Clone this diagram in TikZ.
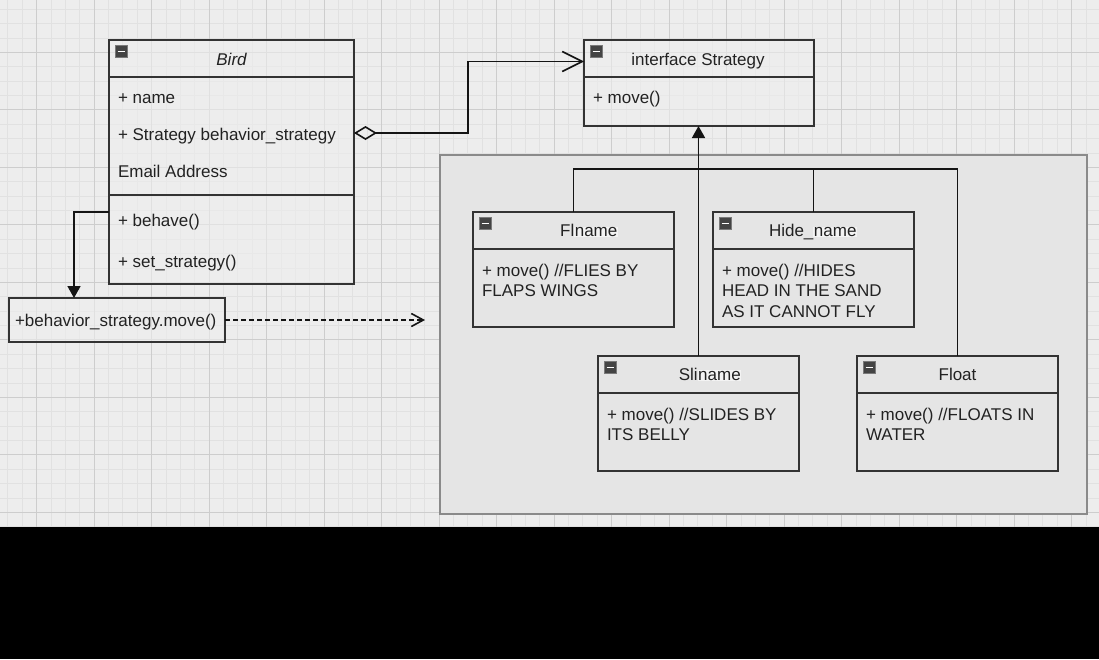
\documentclass[tikz,border=0pt]{standalone}
\usepackage{fontspec}
\setmainfont{Liberation Sans}
\usetikzlibrary{arrows.meta}
\definecolor{bg}{HTML}{EDEDED}
\definecolor{gmin}{HTML}{E1E1E1}
\definecolor{gmaj}{HTML}{CDCDCD}
\definecolor{grpfill}{HTML}{E5E5E5}
\definecolor{grpline}{HTML}{8A8A8A}
\definecolor{ink}{HTML}{222222}
\definecolor{boxline}{HTML}{333333}
\definecolor{hlc}{HTML}{F3F3F3}
\definecolor{iconc}{HTML}{444444}
\definecolor{iconline}{HTML}{7A7A7A}
\newcommand\hlname{{\setlength\fboxsep{0.5pt}\colorbox{hlc}{name}}}
\begin{document}
\begin{tikzpicture}[x=1pt,y=-1pt,
  every node/.style={inner sep=0pt,outer sep=0pt},
  cls/.style={draw=boxline,line width=1.8pt,fill=bg,fill opacity=0.6,anchor=north west},
  sub/.style={draw=boxline,line width=1.8pt,fill=grpfill,anchor=north west},
  txt/.style={anchor=base west,text=ink,font=\fontsize{17}{20}\selectfont},
  ttl/.style={anchor=base,text=ink,font=\fontsize{17}{20}\selectfont},
  icon/.style={minimum width=12pt,minimum height=12pt,fill=iconc,draw=iconline,line width=1pt,
    path picture={\draw[white,line width=1.8pt] ([xshift=2.5pt]path picture bounding box.west) -- ([xshift=-2.5pt]path picture bounding box.east);}},
  conn/.style={draw=black!92,line width=1.6pt},
  tri/.style={-{Triangle[length=12pt,width=13pt]}}
]
\useasboundingbox (0,0) rectangle (1099,659);
% background and grid
\fill[bg] (0,0) rectangle (1099,527);
\begin{scope}
\clip (0,0) rectangle (1099,527);
\foreach \i in {0,...,76} { \draw[gmin,line width=0.7pt] ({7.75+\i*14.375},0) -- ({7.75+\i*14.375},527); }
\foreach \j in {0,...,36} { \draw[gmin,line width=0.7pt] (0,{9.2+\j*14.375}) -- (1099,{9.2+\j*14.375}); }
\foreach \i in {0,...,18} { \draw[gmaj,line width=0.9pt] ({36.5+\i*57.5},0) -- ({36.5+\i*57.5},527); }
\foreach \j in {0,...,8} { \draw[gmaj,line width=0.9pt] (0,{52.3+\j*57.5}) -- (1099,{52.3+\j*57.5}); }
\end{scope}
\fill[black] (0,527) rectangle (1099,659);

% Bird class
\node[cls,minimum width=245,minimum height=37] (birdH) at (109,40) {};
\node[cls,minimum width=245,minimum height=118] (birdA) at (109,77) {};
\node[cls,minimum width=245,minimum height=89] (birdM) at (109,195) {};
\node[icon] (iBird) at ([shift={(12,11.5)}]birdH.north west) {};
\node[ttl] (birdT) at (231.5,65) {\itshape Bird};
\node[txt] (b1) at (118,103) {+ name};
\node[txt] (b2) at (118,140) {+ Strategy behavior\_strategy};
\node[txt] (b3) at (118,177) {Email Address};
\node[txt] (b4) at (118,226.5) {+ behave()};
\node[txt] (b5) at (118,267) {+ set\_strategy()};

% call box
\node[cls,minimum width=216,minimum height=44] (call) at (9,298) {};
\node[txt] (ct) at (15,326.5) {+behavior\_strategy.move()};

% Strategy interface
\node[cls,minimum width=230,minimum height=37] (stratH) at (584,40) {};
\node[cls,minimum width=230,minimum height=49] (stratA) at (584,77) {};
\node[icon] (iStrat) at ([shift={(12,11.5)}]stratH.north west) {};
\node[ttl] (stratT) at (698,65) {interface Strategy};
\node[txt] (s1) at (593,103) {+ move()};

% group container
\node[draw=grpline,line width=1.5pt,fill=grpfill,anchor=north west,minimum width=647,minimum height=359] (grp) at (440,155) {};

% Fly
\node[sub,minimum width=201,minimum height=37] (flyH) at (473,212) {};
\node[sub,minimum width=201,minimum height=78] (flyB) at (473,249) {};
\node[icon] (iFly) at ([shift={(12,11.5)}]flyH.north west) {};
\node[ttl] (flyT) at (589,236.5) {Fl\hlname};
\node[txt] (f1) at (482,276) {+ move() //FLIES BY};
\node[txt] (f2) at (482,296.7) {FLAPS WINGS};

% Hide
\node[sub,minimum width=201,minimum height=37] (hideH) at (713,212) {};
\node[sub,minimum width=201,minimum height=78] (hideB) at (713,249) {};
\node[icon] (iHide) at ([shift={(12,11.5)}]hideH.north west) {};
\node[ttl] (hideT) at (813,236.5) {Hide\_\hlname};
\node[txt] (h1) at (722,276) {+ move() //HIDES};
\node[txt] (h2) at (722,296.7) {HEAD IN THE SAND};
\node[txt] (h3) at (722,317.4) {AS IT CANNOT FLY};

% Slide
\node[sub,minimum width=201,minimum height=37] (slideH) at (598,356) {};
\node[sub,minimum width=201,minimum height=78] (slideB) at (598,393) {};
\node[icon] (iSlide) at ([shift={(12,11.5)}]slideH.north west) {};
\node[ttl] (slideT) at (710,380) {Sli\hlname};
\node[txt] (sl1) at (607,420) {+ move() //SLIDES BY};
\node[txt] (sl2) at (607,440.7) {ITS BELLY};

% Float
\node[sub,minimum width=201,minimum height=37] (floatH) at (857,356) {};
\node[sub,minimum width=201,minimum height=78] (floatB) at (857,393) {};
\node[icon] (iFloat) at ([shift={(12,11.5)}]floatH.north west) {};
\node[ttl] (floatT) at (957.5,380) {Float};
\node[txt] (fl1) at (866,420) {+ move() //FLOATS IN};
\node[txt] (fl2) at (866,440.7) {WATER};

% connectors
\draw[conn,{Diamond[open,length=23pt,width=14pt]}-{Straight Barb[length=20pt,width=20pt]}]
  ([yshift=3pt]birdA.east) -- ++(114,0) |- ([yshift=-3pt]stratH.west);
\draw[conn,tri] ([yshift=27.5pt]birdM.west) -| ([xshift=-43pt]call.north);
\coordinate (dend) at (425,320);
\draw[conn,dash pattern=on 5pt off 3pt,-{Straight Barb[length=12pt,width=13pt]}] (call.east) -- (call.east -| dend);
\coordinate (bus) at (698,169);
\draw[conn] (flyH.north) |- (bus) -| (floatH.north);
\draw[conn] (hideH.north) -- (hideH.north |- bus);
\draw[conn,tri] (slideH.north) -- (slideH.north |- stratA.south);
\end{tikzpicture}
\end{document}
